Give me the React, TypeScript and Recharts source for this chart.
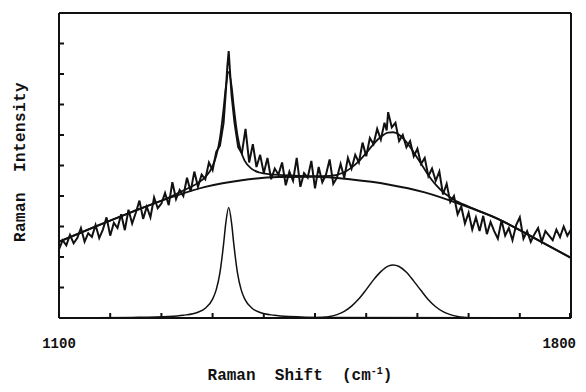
import { LineChart, Line, XAxis, YAxis } from "recharts"

// measured spectrum (cm-1 / arbitrary intensity)
const dataShift = [
  1100, 1105, 1110, 1115, 1120, 1125, 1130, 1135, 1140, 1145, 1150, 1155, 1160, 1165, 1170, 1175, 1180, 1185, 1190, 1195,
  1200, 1205, 1210, 1215, 1220, 1225, 1230, 1235, 1240, 1245, 1250, 1255, 1260, 1265, 1270, 1275, 1280, 1285, 1290, 1295,
  1300, 1305, 1310, 1315, 1320, 1325, 1328, 1330, 1332, 1334, 1336, 1340, 1345, 1350, 1355, 1360, 1365, 1370, 1375, 1380,
  1385, 1390, 1395, 1400, 1405, 1410, 1415, 1420, 1425, 1430, 1435, 1440, 1445, 1450, 1455, 1460, 1465, 1470, 1475, 1480,
  1485, 1490, 1495, 1500, 1505, 1510, 1515, 1520, 1525, 1530, 1535, 1540, 1545, 1548, 1550, 1555, 1560, 1565, 1570, 1575,
  1580, 1585, 1590, 1595, 1600, 1605, 1610, 1615, 1620, 1625, 1630, 1635, 1640, 1645, 1650, 1655, 1660, 1665, 1670, 1675,
  1680, 1685, 1690, 1695, 1700, 1705, 1710, 1715, 1720, 1725, 1730, 1735, 1740, 1745, 1750, 1755, 1760, 1765, 1770, 1775,
  1780, 1785, 1790, 1795, 1800,
]
const dataIntensity = [
  2.25, 2.55, 2.38, 2.72, 2.45, 2.62, 2.95, 2.5, 2.78, 2.66, 3.05, 2.62, 2.9, 3.3, 2.7, 3.12, 2.95, 3.4, 2.88, 3.55,
  3.1, 3.45, 3.85, 3.25, 3.65, 3.3, 3.95, 3.6, 3.75, 4.1, 3.7, 4.45, 3.9, 4.2, 4.0, 4.6, 4.15, 4.8, 4.3, 4.7,
  4.55, 5.1, 4.85, 5.45, 5.65, 6.4, 7.4, 8.2, 8.75, 8.0, 7.3, 6.4, 5.6, 5.4, 6.2, 5.1, 5.7, 4.95, 5.35, 4.75,
  5.25, 4.55, 4.9, 4.7, 5.1, 4.35, 4.8, 4.5, 5.25, 4.3, 4.75, 4.6, 5.15, 4.25, 4.95, 4.45, 4.7, 5.2, 4.4, 4.6,
  5.05, 4.6, 5.25, 4.9, 5.35, 5.1, 5.75, 5.3, 5.9, 5.7, 6.2, 5.85, 6.4, 6.15, 6.75, 6.25, 6.4, 5.8, 6.0, 5.6,
  5.8, 5.3, 5.55, 5.05, 5.25, 4.65, 4.9, 4.5, 4.8, 4.05, 4.4, 3.8, 4.0, 3.4, 3.65, 3.1, 3.45, 2.9, 3.3, 2.85,
  3.35, 2.75, 3.15, 2.85, 2.6, 3.2, 2.7, 2.95, 2.55, 3.05, 3.3, 2.6, 2.85, 2.5, 2.75, 2.95, 2.5, 2.85, 2.7, 2.55,
  2.9, 2.65, 3.0, 2.7, 2.9,
]

// fitted total (background + both bands)
const fitShift = [
  1100, 1150, 1200, 1250, 1270, 1290, 1300, 1310, 1315, 1320, 1325, 1328, 1332, 1336, 1339, 1344, 1349, 1354, 1364, 1374,
  1390, 1420, 1450, 1470, 1490, 1500, 1510, 1520, 1530, 1540, 1550, 1557, 1565, 1575, 1585, 1595, 1605, 1615, 1625, 1640,
  1660, 1700, 1750, 1800,
]
const fitIntensity = [
  2.5, 3.0, 3.48, 3.95, 4.18, 4.43, 4.62, 4.98, 5.32, 5.89, 6.86, 7.55, 8.07, 7.59, 6.92, 5.99, 5.45, 5.15, 4.88, 4.77,
  4.71, 4.67, 4.65, 4.66, 4.78, 4.93, 5.14, 5.41, 5.7, 5.94, 6.08, 6.09, 6.01, 5.77, 5.43, 5.06, 4.68, 4.37, 4.13, 3.88,
  3.65, 3.25, 2.62, 1.97,
]

// broad background
const bgShift = [1100, 1150, 1200, 1250, 1300, 1350, 1400, 1450, 1500, 1550, 1600, 1650, 1700, 1750, 1800]
const bgIntensity = [2.5, 3.0, 3.48, 3.93, 4.3, 4.52, 4.62, 4.63, 4.54, 4.38, 4.12, 3.72, 3.25, 2.62, 1.97]

// sharp band near 1332
const sharpShift = [
  1100, 1200, 1250, 1270, 1290, 1300, 1310, 1315, 1320, 1325, 1328, 1332, 1336, 1339, 1344, 1349, 1354, 1364, 1374, 1394,
  1414, 1464, 1800,
]
const sharpIntensity = [
  0, 0.02, 0.05, 0.09, 0.19, 0.32, 0.62, 0.93, 1.48, 2.42, 3.1, 3.62, 3.1, 2.42, 1.48, 0.93, 0.62, 0.32, 0.19, 0.09,
  0.05, 0.02, 0,
]

// broad band near 1557
const broadShift = [
  1100, 1450, 1460, 1470, 1480, 1490, 1500, 1510, 1520, 1530, 1540, 1550, 1557, 1565, 1575, 1585, 1595, 1605, 1615, 1625,
  1635, 1645, 1655, 1665, 1800,
]
const broadIntensity = [
  0, 0, 0.02, 0.05, 0.11, 0.22, 0.39, 0.63, 0.93, 1.25, 1.52, 1.7, 1.74, 1.69, 1.5, 1.21, 0.9, 0.6, 0.37, 0.21,
  0.11, 0.05, 0.02, 0, 0,
]

const xTicks = [1100, 1170, 1240, 1310, 1380, 1450, 1520, 1590, 1660, 1730, 1800]
const yTicks = [0, 1, 2, 3, 4, 5, 6, 7, 8, 9, 10]

const toRows = (xs: number[], ys: number[]) => xs.map((s, i) => ({ shift: s, value: ys[i] }))

const spectrum = toRows(dataShift, dataIntensity)
const fit = toRows(fitShift, fitIntensity)
const background = toRows(bgShift, bgIntensity)
const sharpBand = toRows(sharpShift, sharpIntensity)
const broadBand = toRows(broadShift, broadIntensity)

const FONT = "'Liberation Mono', 'DejaVu Sans Mono', monospace"
const INK = "#111"

const BottomTick = (props: any) => {
  const { x, y, payload } = props
  const v = payload.value
  return (
    <g>
      <line x1={x} y1={y} x2={x} y2={y - 5} stroke={INK} strokeWidth={2} />
      {v === 1100 && (
        <text x={x} y={y + 30} textAnchor="middle" fontFamily={FONT} fontWeight="bold" fontSize={14} fill={INK}>
          {v}
        </text>
      )}
      {v === 1800 && (
        <text x={x + 6} y={y + 30} textAnchor="end" fontFamily={FONT} fontWeight="bold" fontSize={14} fill={INK}>
          {v}
        </text>
      )}
    </g>
  )
}

const TopTick = (props: any) => {
  const { x, y } = props
  return <line x1={x} y1={y} x2={x} y2={y + 5} stroke={INK} strokeWidth={2} />
}

const LeftTick = (props: any) => {
  const { x, y } = props
  return <line x1={x} y1={y} x2={x + 5} y2={y} stroke={INK} strokeWidth={2} />
}

const RightTick = (props: any) => {
  const { x, y } = props
  return <line x1={x} y1={y} x2={x - 5} y2={y} stroke={INK} strokeWidth={2} />
}

export default function App() {
  return (
    <div style={{ margin: -8, width: 586, height: 392, position: "relative", background: "#fff" }}>
      <LineChart width={586} height={392} margin={{ top: 0, right: 0, bottom: 0, left: 0 }}>
        <XAxis
          xAxisId="b"
          dataKey="shift"
          type="number"
          domain={[1100, 1800]}
          ticks={xTicks}
          orientation="bottom"
          height={74}
          tickSize={0}
          tickMargin={0}
          tickLine={false}
          tick={<BottomTick />}
          axisLine={{ stroke: INK, strokeWidth: 2 }}
          allowDataOverflow
        />
        <XAxis
          xAxisId="t"
          dataKey="shift"
          type="number"
          domain={[1100, 1800]}
          ticks={xTicks}
          orientation="top"
          height={13}
          tickSize={0}
          tickMargin={0}
          tickLine={false}
          tick={<TopTick />}
          axisLine={{ stroke: INK, strokeWidth: 2 }}
        />
        <YAxis
          yAxisId="l"
          type="number"
          domain={[0, 10]}
          ticks={yTicks}
          orientation="left"
          width={59}
          tickSize={0}
          tickMargin={0}
          tickLine={false}
          tick={<LeftTick />}
          axisLine={{ stroke: INK, strokeWidth: 2 }}
          allowDataOverflow
        />
        <YAxis
          yAxisId="r"
          type="number"
          domain={[0, 10]}
          ticks={yTicks}
          orientation="right"
          width={15}
          tickSize={0}
          tickMargin={0}
          tickLine={false}
          tick={<RightTick />}
          axisLine={{ stroke: INK, strokeWidth: 2 }}
        />
        <Line xAxisId="b" yAxisId="l" data={sharpBand} dataKey="value" type="monotone" stroke={INK} strokeWidth={1.5} dot={false} isAnimationActive={false} />
        <Line xAxisId="b" yAxisId="l" data={broadBand} dataKey="value" type="monotone" stroke={INK} strokeWidth={1.5} dot={false} isAnimationActive={false} />
        <Line xAxisId="b" yAxisId="l" data={background} dataKey="value" type="monotone" stroke={INK} strokeWidth={2} dot={false} isAnimationActive={false} />
        <Line xAxisId="b" yAxisId="l" data={fit} dataKey="value" type="monotone" stroke={INK} strokeWidth={1.8} dot={false} isAnimationActive={false} />
        <Line xAxisId="b" yAxisId="l" data={spectrum} dataKey="value" type="linear" stroke={INK} strokeWidth={2} dot={false} isAnimationActive={false} />
      </LineChart>
      <svg width={586} height={392} style={{ position: "absolute", left: 0, top: 0, pointerEvents: "none" }}>
        <text
          x={21}
          y={162}
          transform="rotate(-90 21 162)"
          textAnchor="middle"
          dominantBaseline="central"
          fontFamily={FONT}
          fontWeight="bold"
          fontSize={16}
          letterSpacing={0.4}
          fill={INK}
          style={{ whiteSpace: "pre" }}
        >
          Raman  Intensity
        </text>
        <text
          x={300}
          y={380}
          textAnchor="middle"
          fontFamily={FONT}
          fontWeight="bold"
          fontSize={16}
          fill={INK}
          style={{ whiteSpace: "pre" }}
        >
          {"Raman  Shift  (cm"}
          <tspan dy={-6} fontSize={10}>-1</tspan>
          <tspan dy={6}>)</tspan>
        </text>
      </svg>
    </div>
  )
}
